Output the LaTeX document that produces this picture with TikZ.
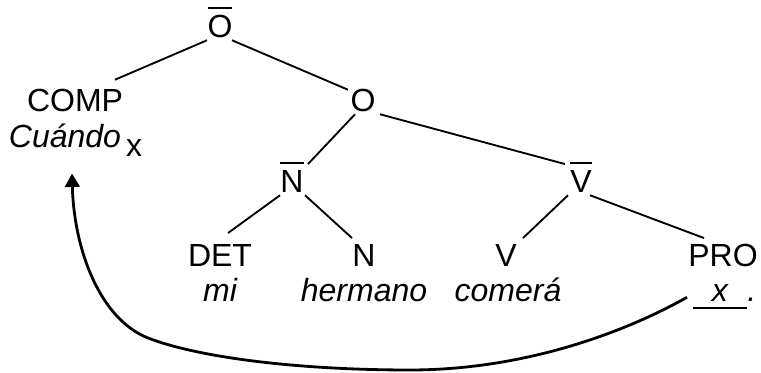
\documentclass[tikz,border=0pt]{standalone}
\usepackage{fontspec}
\setmainfont{Liberation Sans}
\usetikzlibrary{arrows.meta}
\newcommand{\barra}[1]{\vbox{\hrule height 1.8pt\kern 5pt\hbox{#1}}}
\begin{document}
\begin{tikzpicture}[x=0.75pt,y=-0.75pt,
	every node/.style={font=\fontsize{24}{29}\selectfont,inner sep=0pt,anchor=base},
	cat/.style={inner ysep=1.5pt,text height=20pt,text depth=0pt},
	palabra/.style={font=\fontsize{24}{29}\selectfont\itshape},
	rama/.style={line width=1.4pt},
	flecha/.style={line width=2.1pt,-{Triangle[length=10pt,width=11pt]}}]
	\useasboundingbox (0,0) rectangle (761,373);
	\node[cat] (obar) at (220,38) {\barra{O}};
	\node[cat] (comp) at (75,112) {COMP};
	\node[palabra] (cuando) at (65,148) {Cuándo};
	\node (cx) at (134,157) {x};
	\node[cat] (o) at (363,112) {O};
	\node[cat] (nbar) at (292,193) {\barra{N}};
	\node[cat] (vbar) at (581,193) {\barra{V}};
	\node[cat] (det) at (220,267) {DET};
	\node[cat] (n) at (364,267) {N};
	\node[cat] (v) at (506,267) {V};
	\node[cat] (pro) at (723,267) {PRO};
	\node[palabra] (mi) at (220,302) {mi};
	\node[palabra] (hermano) at (364,302) {hermano};
	\node[palabra] (comera) at (508,302) {comerá};
	\node[palabra,anchor=base west] (xw) at (693,302) {\makebox[0pt][l]{\rule[-5.6pt]{40.5pt}{2.2pt}}\hspace*{14pt}x\hspace*{14.5pt}.};
	\draw[rama] ([xshift=-9.75pt]obar.south) -- ([xshift=30pt,yshift=2.5pt]comp.north);
	\draw[rama] ([xshift=9pt]obar.south) -- ([xshift=-11.25pt,yshift=-5pt]o.north);
	\draw[rama] ([xshift=-6pt]o.south) -- ([xshift=12pt]nbar.north);
	\draw[rama] ([xshift=12.75pt]o.south) -- ([xshift=-12pt]vbar.north);
	\draw[rama] ([xshift=-9pt]nbar.south) -- ([xshift=6pt,yshift=3.75pt]det.north);
	\draw[rama] ([xshift=9.75pt]nbar.south) -- ([xshift=-9pt]n.north);
	\draw[rama] ([xshift=-9.75pt]vbar.south) -- ([xshift=12.75pt]v.north);
	\draw[rama] ([xshift=6.75pt]vbar.south) -- ([xshift=-14.25pt]pro.north);
	\draw[flecha] ([xshift=-4.5pt]xw.west) .. controls (620,335) and (520,370) .. (410,370) .. controls (300,370) and (200,358) .. (148,338) .. controls (100,319) and (74,250) .. ([xshift=5.25pt,yshift=-18.75pt]cuando.south);
\end{tikzpicture}
\end{document}
